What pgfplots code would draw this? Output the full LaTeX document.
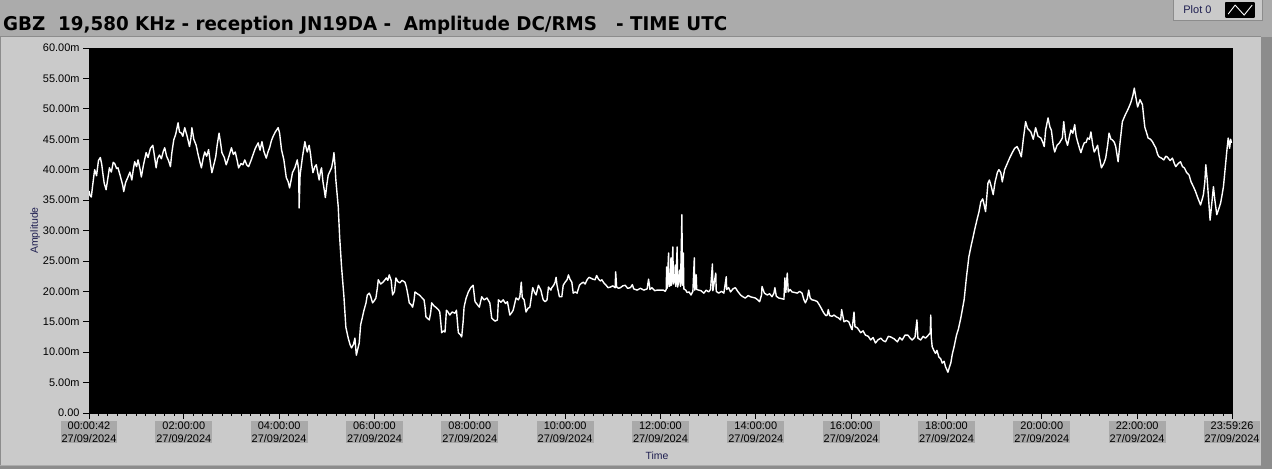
\documentclass[border=0pt]{standalone}
\usepackage{pgfplots}
\pgfplotsset{compat=1.18}
\usepackage{fontspec}
\setmainfont{Liberation Sans}
\newfontfamily\titlefont{DejaVu Sans}
\usepackage{graphicx}
\definecolor{outergrey}{HTML}{ABABAB}
\definecolor{panelgrey}{HTML}{CACACA}
\definecolor{boxgrey}{HTML}{A9A9A9}
\definecolor{edgegrey}{HTML}{8C8C8C}
\definecolor{labelnavy}{HTML}{1E1E50}
\begin{document}
\begin{tikzpicture}[x=1bp,y=1bp]
\fill[outergrey] (0,0) rectangle (1272,469);
\fill[panelgrey] (0,4) rectangle (1261,432);
\fill[edgegrey] (1261,0) rectangle (1272,432);
\fill[edgegrey] (0,0) rectangle (1272,3);
\draw[edgegrey,line width=1bp] (0.5,4) -- (0.5,432) -- (1261,432);
\node[anchor=base west, inner sep=0pt] at (3,438) {\resizebox{724bp}{\height}{\titlefont\fontsize{19}{22}\selectfont\bfseries GBZ~~19,580 KHz - reception JN19DA -~~Amplitude DC/RMS~~~- TIME UTC}};
\begin{axis}[
  at={(89bp,56bp)}, anchor=south west,
  scale only axis, width=1143bp, height=365bp,
  xmin=0.0117, xmax=23.99, ymin=0, ymax=60,
  axis background/.style={fill=black},
  axis line style={black},
  tick align=outside,
  xtick pos=left, ytick pos=left,
  major tick length=6bp, minor tick length=3bp,
  every tick/.style={black, line width=0.8bp},
  minor tick style={black, line width=0.8bp},
  ytick={0,5,10,15,20,25,30,35,40,45,50,55,60},
  yticklabels={0.00,5.00m,10.00m,15.00m,20.00m,25.00m,30.00m,35.00m,40.00m,45.00m,50.00m,55.00m,60.00m},
  yticklabel style={font=\fontsize{11}{12}\selectfont, text=black},
  xtick={0.0117,2,4,6,8,10,12,14,16,18,20,22,23.99},
  xticklabels={{00:00:42\\27/09/2024},{02:00:00\\27/09/2024},{04:00:00\\27/09/2024},{06:00:00\\27/09/2024},{08:00:00\\27/09/2024},{10:00:00\\27/09/2024},{12:00:00\\27/09/2024},{14:00:00\\27/09/2024},{16:00:00\\27/09/2024},{18:00:00\\27/09/2024},{20:00:00\\27/09/2024},{22:00:00\\27/09/2024},{23:59:26\\27/09/2024}},
  xticklabel style={fill=boxgrey, align=center, inner xsep=1bp, inner ysep=1bp, font=\fontsize{11}{12.5}\selectfont, text=black},
  xticklabel shift=2bp,
  minor xtick={0.2,0.4,...,23.8},
  ylabel={Amplitude},
  ylabel style={at={(axis description cs:-0.047,0.5)}, anchor=center, font=\fontsize{10.5}{12}\selectfont, text=labelnavy},
  xlabel={Time},
  xlabel style={at={(axis description cs:0.497,-0.118)}, anchor=center, font=\fontsize{10.5}{12}\selectfont, text=labelnavy},
  legend style={at={(axis description cs:0.9484,1.1342)}, anchor=north west, fill=panelgrey, draw=edgegrey, line width=0.8bp, font=\fontsize{11}{12}\selectfont, text=labelnavy, inner xsep=8bp, inner ysep=3bp, /tikz/column sep=12bp},
  legend plot pos=right,
  clip=true,
]
\addplot[white, line width=1.4bp, line join=round,
  legend image code/.code={\fill[black] (0bp,-7bp) rectangle (28bp,7bp); \draw[white,line width=0.9bp] (2bp,-4bp) -- (9bp,5bp) -- (18bp,-5bp) -- (26bp,5bp);}]
coordinates {
(0.012,36.5)(0.03,35.8)(0.06,35.5)(0.09,37.5)(0.13,40.0)(0.17,39.0)(0.21,41.5)(0.25,42.0)(0.28,40.8)(0.30,39.5)
(0.33,37.8)(0.37,36.7)(0.40,38.2)(0.44,40.3)(0.48,39.6)(0.52,41.2)(0.55,41.0)(0.59,40.2)(0.62,40.3)(0.66,39.2)
(0.69,38.3)(0.72,37.4)(0.74,36.4)(0.78,37.9)(0.83,38.8)(0.87,39.6)(0.91,38.3)(0.94,40.0)(0.97,41.3)(1.01,40.5)
(1.04,41.6)(1.08,40.2)(1.11,38.8)(1.15,40.6)(1.21,42.8)(1.25,42.0)(1.30,43.5)(1.35,44.0)(1.38,42.5)(1.42,40.3)
(1.45,41.8)(1.49,42.4)(1.53,41.8)(1.57,43.0)(1.60,43.6)(1.64,42.2)(1.68,41.5)(1.72,40.5)(1.75,42.8)(1.79,44.9)
(1.83,45.8)(1.88,47.7)(1.91,46.2)(1.95,46.0)(1.98,45.5)(2.02,46.9)(2.07,45.5)(2.12,43.8)(2.15,45.2)(2.17,46.9)
(2.21,45.0)(2.26,44.0)(2.30,42.5)(2.34,41.2)(2.37,40.3)(2.41,42.0)(2.44,42.9)(2.48,42.2)(2.52,43.3)(2.56,41.0)
(2.59,39.5)(2.63,40.8)(2.67,42.1)(2.70,44.0)(2.74,46.0)(2.77,44.5)(2.80,42.8)(2.85,42.0)(2.89,40.8)(2.94,42.0)
(3.00,43.6)(3.04,42.5)(3.08,42.9)(3.12,41.5)(3.15,40.3)(3.20,41.0)(3.24,40.8)(3.28,41.6)(3.32,40.8)(3.36,40.5)
(3.41,41.5)(3.45,42.4)(3.50,43.5)(3.56,44.4)(3.60,43.2)(3.64,44.6)(3.68,43.0)(3.73,41.9)(3.77,43.0)(3.80,43.6)
(3.84,44.8)(3.87,45.4)(3.92,46.2)(3.98,46.9)(4.01,46.0)(4.05,43.3)(4.10,41.6)(4.15,38.7)(4.19,38.0)(4.22,37.0)
(4.25,38.2)(4.28,39.5)(4.33,40.3)(4.38,41.6)(4.41,40.0)(4.42,33.7)(4.44,39.1)(4.49,42.1)(4.54,44.6)(4.57,43.5)
(4.59,42.9)(4.63,44.0)(4.66,42.5)(4.68,41.1)(4.71,39.5)(4.75,40.5)(4.78,40.8)(4.81,39.5)(4.84,38.3)(4.87,39.8)
(4.89,40.3)(4.92,38.0)(4.95,36.5)(4.97,35.4)(5.00,37.5)(5.03,39.1)(5.07,39.8)(5.10,40.3)(5.13,41.5)(5.15,42.8)
(5.17,41.0)(5.19,38.3)(5.24,33.9)(5.27,28.9)(5.31,24.0)(5.36,19.1)(5.40,14.1)(5.45,12.3)(5.49,11.2)(5.52,10.7)
(5.56,11.3)(5.59,12.3)(5.62,9.5)(5.65,10.5)(5.68,11.5)(5.71,14.5)(5.74,15.5)(5.78,16.9)(5.82,18.0)(5.85,19.4)
(5.89,19.7)(5.92,19.2)(5.96,18.1)(6.00,18.5)(6.03,18.9)(6.06,20.5)(6.08,21.9)(6.13,21.2)(6.18,21.5)(6.22,21.9)
(6.25,22.2)(6.28,21.8)(6.31,22.7)(6.35,21.8)(6.38,19.4)(6.42,20.0)(6.45,22.2)(6.49,21.6)(6.53,21.4)(6.58,21.8)
(6.64,21.5)(6.67,20.7)(6.70,19.5)(6.73,18.1)(6.77,17.8)(6.80,17.4)(6.83,18.5)(6.85,19.9)(6.90,19.6)(6.94,19.4)
(6.99,19.0)(7.04,18.6)(7.06,17.5)(7.08,15.8)(7.12,15.5)(7.15,15.3)(7.18,16.5)(7.20,18.1)(7.25,17.6)(7.30,17.3)
(7.34,17.0)(7.37,16.6)(7.39,15.0)(7.41,13.2)(7.45,13.5)(7.48,13.3)(7.51,16.9)(7.55,16.5)(7.58,16.1)(7.63,16.6)
(7.69,16.4)(7.72,16.9)(7.74,15.0)(7.76,13.2)(7.80,12.9)(7.83,12.5)(7.86,15.0)(7.88,17.4)(7.92,18.8)(7.97,19.9)
(8.02,20.6)(8.07,21.0)(8.11,18.3)(8.14,18.0)(8.20,17.4)(8.25,19.1)(8.30,18.6)(8.36,18.9)(8.42,18.1)(8.46,15.6)
(8.50,15.3)(8.53,15.1)(8.58,15.3)(8.60,18.6)(8.65,18.2)(8.70,18.6)(8.75,18.0)(8.79,18.3)(8.84,16.1)(8.88,16.5)
(8.91,16.9)(8.97,18.9)(9.02,18.6)(9.05,19.1)(9.08,21.5)(9.10,19.0)(9.14,18.6)(9.18,16.6)(9.22,17.2)(9.26,17.4)
(9.32,20.6)(9.36,19.8)(9.39,19.4)(9.44,21.0)(9.49,20.2)(9.54,18.6)(9.58,18.3)(9.62,18.6)(9.65,20.7)(9.70,20.2)
(9.72,20.6)(9.76,21.0)(9.79,21.5)(9.81,22.3)(9.83,21.0)(9.88,19.1)(9.93,19.1)(9.96,21.0)(10.00,21.5)(10.04,21.9)
(10.07,22.7)(10.10,22.0)(10.14,21.5)(10.17,19.7)(10.21,19.9)(10.25,19.7)(10.30,21.0)(10.34,21.3)(10.38,21.5)(10.42,21.2)
(10.46,21.9)(10.50,22.3)(10.53,22.2)(10.58,22.0)(10.63,21.9)(10.66,22.6)(10.70,22.0)(10.74,21.7)(10.77,21.9)(10.82,21.3)
(10.86,21.0)(10.90,20.6)(10.95,20.7)(11.00,20.9)(11.05,20.6)(11.06,23.2)(11.08,20.7)(11.12,20.5)(11.16,20.6)(11.21,20.9)
(11.26,21.0)(11.31,20.5)(11.37,20.6)(11.41,21.1)(11.44,20.4)(11.51,20.2)(11.58,20.5)(11.65,20.2)(11.72,20.4)(11.75,22.0)
(11.78,20.3)(11.82,20.6)(11.88,20.1)(11.93,20.2)(12.00,20.2)(12.06,20.2)(12.10,20.0)(12.12,20.3)(12.13,24.0)(12.14,20.5)
(12.17,26.3)(12.18,20.8)(12.21,21.0)(12.22,25.5)(12.23,21.0)(12.26,27.3)(12.27,21.2)(12.30,22.0)(12.31,24.3)(12.32,20.8)
(12.35,27.3)(12.36,20.7)(12.38,21.5)(12.40,23.5)(12.42,20.8)(12.45,32.6)(12.46,21.0)(12.48,26.3)(12.49,20.4)(12.53,20.2)
(12.56,19.8)(12.60,19.9)(12.64,19.4)(12.68,20.0)(12.71,25.5)(12.72,20.2)(12.75,22.7)(12.76,20.3)(12.80,20.2)(12.85,20.1)
(12.91,19.7)(12.96,20.2)(13.01,19.9)(13.05,20.3)(13.09,24.5)(13.10,20.1)(13.16,23.0)(13.17,20.0)(13.22,19.7)(13.28,20.0)
(13.33,19.7)(13.38,22.4)(13.39,20.3)(13.43,20.6)(13.47,19.9)(13.52,20.4)(13.57,20.6)(13.62,20.0)(13.68,19.4)(13.73,19.1)
(13.78,18.9)(13.84,19.3)(13.89,19.1)(13.94,19.0)(13.99,18.9)(14.04,18.6)(14.08,18.3)(14.12,19.4)(14.13,20.8)(14.18,19.7)
(14.24,19.4)(14.29,19.6)(14.34,19.1)(14.38,19.7)(14.40,20.6)(14.43,19.2)(14.48,18.9)(14.54,18.8)(14.59,18.7)(14.61,22.2)
(14.63,19.8)(14.66,23.0)(14.68,19.9)(14.72,20.3)(14.76,19.9)(14.82,19.8)(14.87,19.7)(14.92,20.0)(14.97,19.7)(15.01,18.6)
(15.04,18.1)(15.08,18.8)(15.11,20.2)(15.14,18.9)(15.18,18.6)(15.24,18.5)(15.29,18.3)(15.33,17.8)(15.36,17.4)(15.40,16.8)
(15.43,16.4)(15.47,16.0)(15.50,16.1)(15.52,17.0)(15.55,16.0)(15.60,15.9)(15.64,16.1)(15.69,15.8)(15.74,15.6)(15.78,15.3)
(15.80,17.0)(15.85,15.0)(15.90,15.2)(15.95,15.0)(16.00,14.0)(16.02,13.7)(16.06,16.6)(16.08,14.2)(16.13,14.0)(16.20,13.2)
(16.25,13.5)(16.30,12.8)(16.36,12.6)(16.41,12.0)(16.46,12.4)(16.51,11.5)(16.56,12.0)(16.62,12.3)(16.67,11.9)(16.72,11.7)
(16.78,12.6)(16.83,12.5)(16.90,12.2)(16.97,11.7)(17.02,12.4)(17.07,12.0)(17.13,12.8)(17.19,12.8)(17.24,12.3)(17.28,12.0)
(17.34,12.5)(17.38,15.3)(17.40,12.3)(17.46,12.0)(17.51,12.6)(17.56,12.3)(17.62,12.8)(17.66,13.2)(17.67,16.1)(17.68,12.5)
(17.70,10.9)(17.74,10.2)(17.77,9.8)(17.80,10.3)(17.84,9.2)(17.88,8.9)(17.91,8.2)(17.95,8.5)(17.98,7.6)(18.03,6.7)
(18.06,7.5)(18.09,8.2)(18.12,9.6)(18.16,10.9)(18.21,12.8)(18.25,13.8)(18.30,15.6)(18.37,18.6)(18.42,22.4)(18.47,25.7)
(18.52,27.6)(18.56,29.0)(18.59,30.1)(18.65,32.1)(18.68,33.0)(18.72,34.7)(18.76,35.2)(18.79,34.2)(18.82,33.1)(18.87,37.8)
(18.90,38.3)(18.94,37.2)(18.98,35.9)(19.02,38.0)(19.07,39.6)(19.10,40.0)(19.14,39.5)(19.17,38.0)(19.22,40.0)(19.28,41.1)
(19.33,42.0)(19.38,42.8)(19.43,43.5)(19.48,43.8)(19.53,43.0)(19.57,42.1)(19.61,44.9)(19.66,47.9)(19.70,46.8)(19.77,46.2)
(19.82,45.0)(19.87,46.9)(19.92,45.5)(19.98,45.2)(20.02,44.5)(20.05,43.8)(20.08,46.5)(20.13,48.5)(20.17,47.0)(20.20,46.5)
(20.24,44.0)(20.27,42.9)(20.32,44.0)(20.37,44.4)(20.43,45.2)(20.46,47.9)(20.50,45.0)(20.54,44.0)(20.58,45.5)(20.61,46.5)
(20.65,46.0)(20.69,47.4)(20.72,45.5)(20.75,44.6)(20.79,43.5)(20.82,42.8)(20.86,43.8)(20.89,44.4)(20.93,44.5)(20.96,45.2)
(21.00,45.0)(21.03,46.2)(21.07,44.0)(21.10,42.9)(21.14,43.5)(21.17,44.0)(21.20,42.4)(21.25,40.3)(21.30,41.0)(21.34,41.9)
(21.38,44.0)(21.41,46.0)(21.45,45.0)(21.48,44.9)(21.52,44.5)(21.55,43.8)(21.60,41.3)(21.64,44.4)(21.69,47.9)(21.75,49.0)
(21.80,49.8)(21.84,50.5)(21.87,51.1)(21.91,52.2)(21.94,53.4)(21.97,52.0)(22.01,50.3)(22.06,51.5)(22.11,50.7)(22.16,47.0)
(22.20,46.0)(22.23,45.2)(22.28,45.0)(22.32,44.6)(22.36,44.0)(22.39,43.6)(22.43,42.5)(22.46,42.1)(22.51,41.9)(22.56,41.6)
(22.60,42.2)(22.63,42.1)(22.69,41.5)(22.74,41.9)(22.78,41.0)(22.81,40.5)(22.86,41.0)(22.91,41.3)(22.95,40.5)(22.99,40.3)
(23.04,39.5)(23.09,39.1)(23.13,38.0)(23.18,37.2)(23.22,36.5)(23.27,35.4)(23.30,34.8)(23.33,34.2)(23.36,35.0)(23.39,35.9)
(23.42,38.0)(23.44,40.8)(23.47,38.3)(23.50,35.0)(23.53,31.7)(23.56,34.0)(23.60,37.2)(23.63,35.0)(23.67,32.6)(23.71,33.5)
(23.75,34.5)(23.78,35.8)(23.81,37.2)(23.85,40.5)(23.88,43.0)(23.91,45.2)(23.94,43.5)(23.96,45.0)(23.98,44.4)
};
\addlegendentry{Plot 0}
\end{axis}
\pgfresetboundingbox
\path[use as bounding box] (0,0) rectangle (1272,469);
\end{tikzpicture}
\end{document}
